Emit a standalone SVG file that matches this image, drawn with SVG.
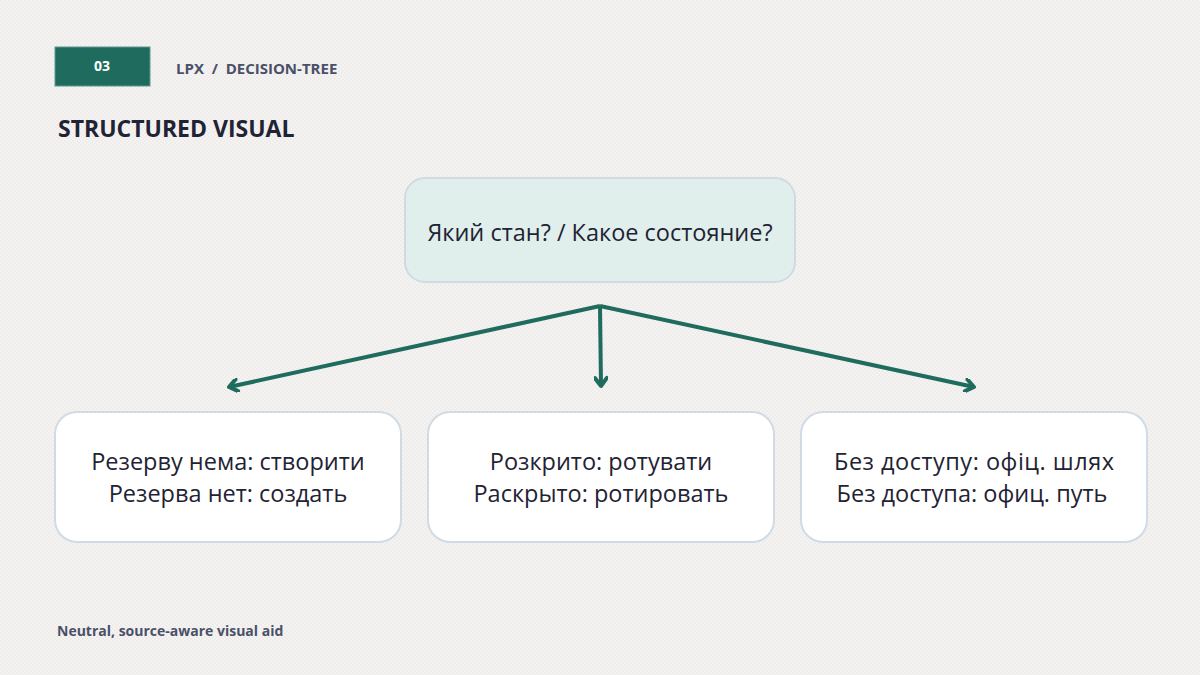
<svg xmlns="http://www.w3.org/2000/svg" width="1200" height="675" viewBox="0 0 1200 675">
<defs>
<pattern id="bg" width="4" height="4" patternUnits="userSpaceOnUse">
<rect width="4" height="4" fill="#f4f3f1"/>
<rect width="2" height="2" fill="#efedeb"/>
<rect x="2" y="2" width="2" height="2" fill="#efedeb"/>
</pattern>
<marker id="arr" viewBox="0 0 14 14" refX="11" refY="7" markerWidth="14" markerHeight="14" markerUnits="userSpaceOnUse" orient="auto">
<path d="M3,1 L11,7 L3,13" fill="none" stroke="#1f6b5e" stroke-width="4" stroke-linecap="round" stroke-linejoin="round"/>
</marker>
</defs>
<style>
.lbl{font-family:"Open Sans","Noto Sans","DejaVu Sans",sans-serif;fill:#1f2333;font-size:23.5px;text-anchor:middle}
.hd{font-family:"Open Sans","Noto Sans",sans-serif;font-weight:700}
.box{fill:#ffffff;stroke:#d0dbe5;stroke-width:2}
.edge{stroke:#1f6b5e;stroke-width:4;fill:none;marker-end:url(#arr)}
</style>
<rect width="1200" height="675" fill="url(#bg)"/>
<g id="header">
<rect x="55" y="47" width="95" height="39" fill="#1f6b5e" stroke="#5d9a8e" stroke-width="1"/>
<text x="102" y="71" class="hd" font-size="14" fill="#ffffff" text-anchor="middle">03</text>
<text x="176" y="74" class="hd" font-size="15" fill="#4a5068" xml:space="preserve">LPX  /  DECISION-TREE</text>
<text x="58" y="137" class="hd" font-size="23" fill="#1f2333">STRUCTURED VISUAL</text>
</g>
<g id="connectors">
<line class="edge" x1="600" y1="306" x2="229" y2="387"/>
<line class="edge" x1="600" y1="306" x2="601" y2="386"/>
<line class="edge" x1="600" y1="306" x2="974" y2="387"/>
</g>
<g id="root">
<rect x="405" y="178" width="390" height="104" rx="20" fill="#e0efec" stroke="#cfdbe0" stroke-width="2"/>
<text x="600" y="241" class="lbl" font-size="24">Який стан? / Какое состояние?</text>
</g>
<g id="node-left">
<rect class="box" x="55" y="412" width="346" height="130" rx="22"/>
<text x="228" y="470" class="lbl">Резерву нема: створити</text>
<text x="228" y="502" class="lbl">Резерва нет: создать</text>
</g>
<g id="node-mid">
<rect class="box" x="428" y="412" width="346" height="130" rx="22"/>
<text x="601" y="470" class="lbl">Розкрито: ротувати</text>
<text x="601" y="502" class="lbl">Раскрыто: ротировать</text>
</g>
<g id="node-right">
<rect class="box" x="801" y="412" width="346" height="130" rx="22"/>
<text x="974" y="470" class="lbl" textLength="280" lengthAdjust="spacing">Без доступу: офіц. шлях</text>
<text x="972" y="502" class="lbl">Без доступа: офиц. путь</text>
</g>
<g id="footer">
<text x="57" y="636" class="hd" font-size="14" fill="#4a5068">Neutral, source-aware visual aid</text>
</g>
</svg>
